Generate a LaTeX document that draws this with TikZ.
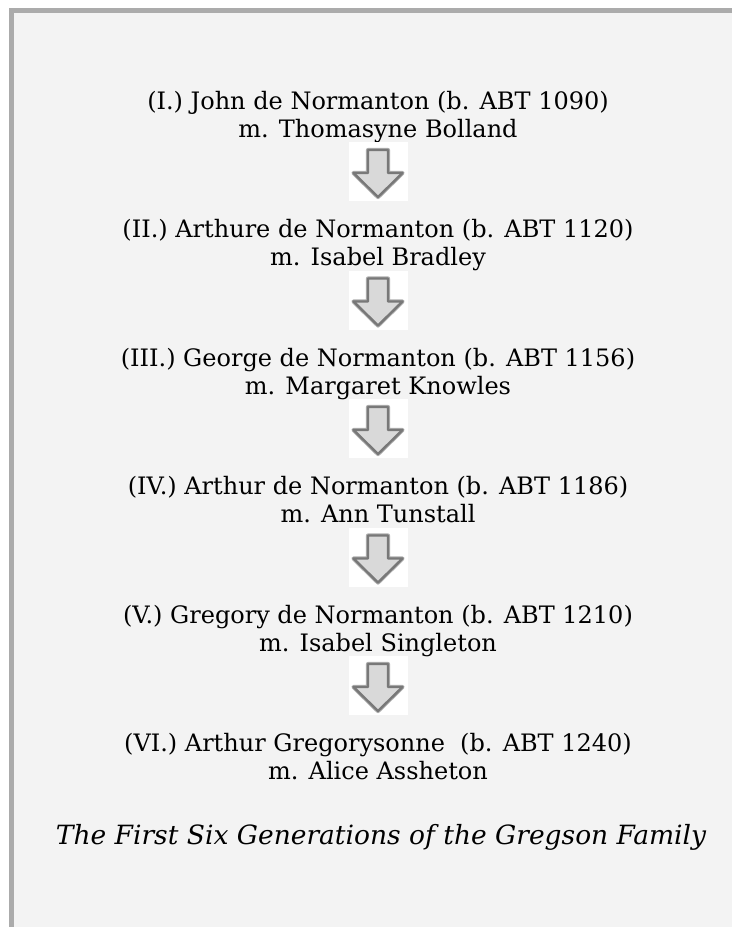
\documentclass[tikz,border=0pt]{standalone}
\usepackage{fontspec}
\setmainfont{DejaVu Serif}
\usetikzlibrary{calc}
\definecolor{framegray}{HTML}{ABABAB}
\definecolor{panelgray}{HTML}{F3F3F3}
\definecolor{arrowfill}{HTML}{D9D9D9}
\definecolor{arrowline}{HTML}{787878}
\tikzset{
  gen/.style={anchor=base,align=center,inner sep=0pt,font=\fontsize{24}{28}\selectfont},
  downarr/.pic={
    \fill[white] (-29.5,0) rectangle (29.5,59);
    \draw[arrowline!60,line width=4.2pt,line join=round]
      (-10,8) -- (10,8) -- (10,31) -- (24.5,31) -- (0,55) -- (-24.5,31) -- (-10,31) -- cycle;
    \draw[arrowline,fill=arrowfill,line width=2.4pt,line join=round]
      (-10,8) -- (10,8) -- (10,31) -- (24.5,31) -- (0,55) -- (-24.5,31) -- (-10,31) -- cycle;
  }
}
\begin{document}
\begin{tikzpicture}[x=1pt,y=-1pt]
\useasboundingbox (0,0) rectangle (732,927);
\fill[framegray] (9,8) rectangle (732,927);
\fill[panelgray] (14,13) rectangle (732,927);
% generations (anchored at the baseline of the second line)
\node[gen] (g1) at (378,137) {(I.) John de Normanton (b. ABT 1090)\\m. Thomasyne Bolland};
\node[gen] (g2) at (378,265.5) {(II.) Arthure de Normanton (b. ABT 1120)\\m. Isabel Bradley};
\node[gen] (g3) at (378,394) {(III.) George de Normanton (b. ABT 1156)\\m. Margaret Knowles};
\node[gen] (g4) at (378,522.5) {(IV.) Arthur de Normanton (b. ABT 1186)\\m. Ann Tunstall};
\node[gen] (g5) at (378,651) {(V.) Gregory de Normanton (b. ABT 1210)\\m. Isabel Singleton};
\node[gen] (g6) at (378,779.5) {(VI.) Arthur Gregorysonne\ \ (b. ABT 1240)\\m. Alice Assheton};
% arrows between them
\pic at ($(g1.base)+(0,5)$) {downarr};
\pic at ($(g2.base)+(0,5)$) {downarr};
\pic at ($(g3.base)+(0,5)$) {downarr};
\pic at ($(g4.base)+(0,5)$) {downarr};
\pic at ($(g5.base)+(0,5)$) {downarr};
\node[gen,font=\fontsize{26.5}{30}\itshape] (cap) at (381,844) {The First Six Generations of the Gregson Family};
\end{tikzpicture}
\end{document}
